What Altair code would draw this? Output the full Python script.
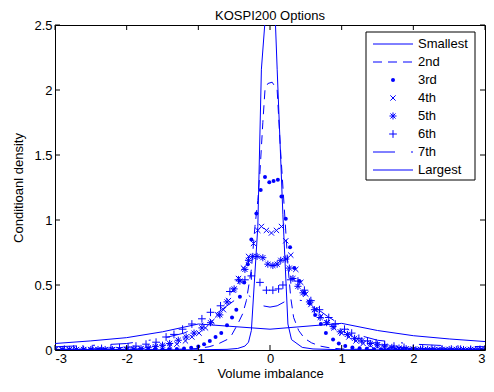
import altair as alt
import pandas as pd

W, H = 430, 325
BLUE = "#0000ff"

# ---- data ----
x_smallest = [-3.0, -2.0, -1.0, -0.6, -0.45, -0.35, -0.3, -0.26, -0.17, -0.12, -0.06, 0.0, 0.07, 0.1, 0.18, 0.25, 0.3, 0.45, 0.6, 1.0, 2.0, 3.0]
y_smallest = [0.0005, 0.001, 0.002, 0.005, 0.012, 0.03, 0.06, 0.15, 0.95, 2.16, 2.6, 3.0, 2.6, 2.16, 1.04, 0.2, 0.08, 0.02, 0.008, 0.002, 0.001, 0.0005]

x_2nd = [-3.0, -2.5, -2.0, -1.5, -1.2, -1.0, -0.85, -0.73, -0.6, -0.53, -0.45, -0.38, -0.33, -0.26, -0.21, -0.17, -0.14, -0.1, -0.07, -0.03, 0.03, 0.1, 0.14, 0.17, 0.21, 0.25, 0.29, 0.33, 0.4, 0.48, 0.58, 0.7, 0.85, 1.0, 1.2, 1.5, 2.0, 2.5, 3.0]
y_2nd = [0.001, 0.001, 0.002, 0.004, 0.007, 0.012, 0.025, 0.045, 0.08, 0.12, 0.2, 0.28, 0.38, 0.62, 0.95, 1.15, 1.37, 1.75, 2.0, 2.05, 2.06, 2.0, 1.6, 1.34, 1.0, 0.65, 0.4, 0.25, 0.15, 0.09, 0.055, 0.03, 0.015, 0.008, 0.006, 0.004, 0.002, 0.001, 0.001]

x_3rd = [-3.0, -2.9, -2.8, -2.7, -2.6, -2.5, -2.4, -2.3, -2.2, -2.1, -2.0, -1.9, -1.8, -1.7, -1.6, -1.5, -1.4, -1.3, -1.2, -1.1, -1.0,
         -0.92, -0.84, -0.76, -0.68, -0.6, -0.53, -0.47, -0.42, -0.36, -0.31, -0.26, -0.19, -0.13, -0.07, -0.01, 0.05, 0.11, 0.16, 0.22, 0.28, 0.34, 0.41, 0.48, 0.55, 0.63, 0.71, 0.78, 0.88, 0.96,
         1.05, 1.15, 1.25, 1.35, 1.45, 1.55, 1.65, 1.75, 1.85, 1.95, 2.05, 2.15, 2.25, 2.35, 2.45, 2.55, 2.65, 2.75, 2.85, 2.95]
y_3rd = [0.002, 0.002, 0.002, 0.002, 0.002, 0.002, 0.002, 0.002, 0.002, 0.002, 0.002, 0.002, 0.003, 0.003, 0.004, 0.005, 0.006, 0.008, 0.012, 0.018, 0.026,
         0.045, 0.07, 0.1, 0.13, 0.19, 0.25, 0.31, 0.41, 0.52, 0.66, 0.85, 1.05, 1.23, 1.33, 1.29, 1.30, 1.31, 1.18, 1.01, 0.79, 0.63, 0.53, 0.44, 0.36, 0.27, 0.2, 0.13, 0.08, 0.05,
         0.03, 0.02, 0.013, 0.009, 0.006, 0.005, 0.004, 0.003, 0.003, 0.002, 0.002, 0.002, 0.002, 0.002, 0.002, 0.002, 0.002, 0.002, 0.002, 0.002]

x_4th = [-3.0, -2.9, -2.8, -2.7, -2.6, -2.5, -2.4, -2.3, -2.2, -2.1, -2.0, -1.9, -1.8, -1.7, -1.6, -1.5, -1.4, -1.3,
         -1.18, -1.09, -0.99, -0.9, -0.81, -0.73, -0.65, -0.58, -0.51, -0.44, -0.37, -0.3, -0.23, -0.17, -0.12, -0.05, 0.02, 0.09, 0.16, 0.22, 0.29, 0.36, 0.43, 0.5, 0.57, 0.64, 0.71, 0.8, 0.89, 1.0, 1.1, 1.2,
         1.3, 1.4, 1.5, 1.6, 1.7, 1.8, 1.9, 2.0, 2.1, 2.2, 2.3, 2.4, 2.5, 2.6, 2.7, 2.8, 2.9, 3.0]
y_4th = [0.003, 0.003, 0.003, 0.003, 0.003, 0.003, 0.003, 0.003, 0.003, 0.003, 0.004, 0.005, 0.007, 0.01, 0.014, 0.02, 0.03, 0.045,
         0.07, 0.1, 0.13, 0.17, 0.22, 0.27, 0.31, 0.38, 0.46, 0.55, 0.63, 0.72, 0.82, 0.92, 0.95, 0.92, 0.9, 0.92, 0.95, 0.84, 0.73, 0.62, 0.52, 0.43, 0.35, 0.31, 0.26, 0.21, 0.17, 0.13, 0.1, 0.07,
         0.05, 0.035, 0.025, 0.017, 0.012, 0.008, 0.006, 0.005, 0.004, 0.004, 0.004, 0.004, 0.004, 0.004, 0.004, 0.004, 0.004, 0.004]

x_5th = [-3.0, -2.9, -2.8, -2.7, -2.6, -2.5, -2.4, -2.3, -2.2, -2.1, -2.0, -1.9, -1.8, -1.7, -1.6, -1.5, -1.4,
         -1.28, -1.17, -1.06, -0.95, -0.83, -0.7, -0.6, -0.5, -0.42, -0.35, -0.3, -0.24, -0.18, -0.1, -0.03, 0.04, 0.1, 0.15, 0.22, 0.27, 0.32, 0.39, 0.46, 0.55, 0.62, 0.7, 0.79, 0.88, 0.98, 1.08, 1.18, 1.28,
         1.4, 1.5, 1.6, 1.7, 1.8, 1.9, 2.0, 2.1, 2.2, 2.3, 2.4, 2.5, 2.6, 2.7, 2.8, 2.9, 3.0]
y_5th = [0.004, 0.004, 0.004, 0.004, 0.004, 0.004, 0.004, 0.004, 0.004, 0.004, 0.006, 0.008, 0.012, 0.018, 0.026, 0.037, 0.05,
         0.075, 0.1, 0.13, 0.17, 0.21, 0.27, 0.37, 0.47, 0.53, 0.62, 0.69, 0.72, 0.72, 0.71, 0.66, 0.65, 0.66, 0.69, 0.7, 0.63, 0.55, 0.49, 0.44, 0.37, 0.31, 0.25, 0.21, 0.18, 0.14, 0.12, 0.09, 0.07,
         0.05, 0.04, 0.03, 0.02, 0.015, 0.01, 0.008, 0.006, 0.004, 0.004, 0.004, 0.004, 0.004, 0.004, 0.004, 0.004, 0.004]

x_6th = [-3.0, -2.87, -2.74, -2.61, -2.48, -2.35, -2.22, -2.1, -1.98, -1.87, -1.73, -1.59, -1.45, -1.34, -1.22, -1.09, -0.95, -0.83, -0.69, -0.56, -0.44, -0.35, -0.26, -0.14, -0.05, 0.04, 0.12, 0.18, 0.29, 0.39, 0.48, 0.57, 0.69, 0.82, 0.91, 1.04, 1.14, 1.24, 1.36, 1.48, 1.6, 1.73, 1.87, 2.0, 2.13, 2.26, 2.4, 2.53, 2.66, 2.8, 2.93]
y_6th = [0.005, 0.006, 0.007, 0.008, 0.01, 0.012, 0.015, 0.018, 0.022, 0.03, 0.045, 0.06, 0.1, 0.12, 0.16, 0.2, 0.24, 0.29, 0.34, 0.45, 0.54, 0.54, 0.57, 0.52, 0.46, 0.46, 0.47, 0.5, 0.54, 0.53, 0.46, 0.38, 0.31, 0.25, 0.2, 0.16, 0.13, 0.09, 0.07, 0.055, 0.04, 0.03, 0.02, 0.015, 0.012, 0.01, 0.008, 0.007, 0.006, 0.005, 0.005]

x_7th = [-3.0, -2.5, -2.0, -1.5, -1.2, -1.0, -0.8, -0.6, -0.45, -0.3, -0.2, -0.1, 0.0, 0.1, 0.2, 0.3, 0.45, 0.6, 0.8, 1.0, 1.2, 1.5, 2.0, 2.5, 3.0]
y_7th = [0.025, 0.035, 0.05, 0.09, 0.13, 0.18, 0.26, 0.34, 0.4, 0.42, 0.38, 0.34, 0.33, 0.34, 0.37, 0.39, 0.38, 0.34, 0.26, 0.19, 0.12, 0.075, 0.045, 0.032, 0.025]

x_largest = [-3.0, -2.5, -2.0, -1.5, -1.0, 0.0, 1.0, 1.5, 2.0, 2.5, 3.0]
y_largest = [0.05, 0.07, 0.095, 0.14, 0.2, 0.16, 0.205, 0.15, 0.11, 0.085, 0.065]

legend_labels = ["Smallest", "2nd", "3rd", "4th", "5th", "6th", "7th", "Largest"]
x_ticks = [-3, -2, -1, 0, 1, 2, 3]
y_ticks = [0, 0.5, 1, 1.5, 2, 2.5]

# ---- chart ----
def frame(xs, ys):
    return pd.DataFrame({"x": xs, "y": ys})

xsc = alt.Scale(domain=[-3, 3], nice=False, zero=False)
ysc = alt.Scale(domain=[0, 2.5], nice=False)
X = alt.X("x:Q", scale=xsc, axis=alt.Axis(title="Volume imbalance", values=x_ticks, labelExpr="toString(datum.value)",
                                          ticks=False, domain=False, grid=False, labelPadding=2, titlePadding=2))
Y = alt.Y("y:Q", scale=ysc, axis=alt.Axis(title="Conditioanl density", values=y_ticks, labelExpr="toString(datum.value)",
                                          ticks=False, domain=False, grid=False, labelPadding=3, titlePadding=8))

PLUS = "M-1,0L1,0M0,-1L0,1"
CROSS = "M-1,-1L1,1M-1,1L1,-1"
STAR = "M-1,0L1,0M0,-1L0,1M-0.72,-0.72L0.72,0.72M-0.72,0.72L0.72,-0.72"
sizes = {"circle": 16, CROSS: 28, STAR: 50, PLUS: 60}

layers = []
layers.append(alt.Chart(frame(x_largest, y_largest)).mark_line(color=BLUE, strokeWidth=1, clip=True).encode(x=X, y=Y))
layers.append(alt.Chart(frame(x_7th, y_7th)).mark_line(color=BLUE, strokeWidth=1, strokeDash=[22, 16, 2, 16], clip=True).encode(x=X, y=Y))
layers.append(alt.Chart(frame(x_smallest, y_smallest)).mark_line(color=BLUE, strokeWidth=1, clip=True).encode(x=X, y=Y))
layers.append(alt.Chart(frame(x_2nd, y_2nd)).mark_line(color=BLUE, strokeWidth=1, strokeDash=[9, 6], clip=True).encode(x=X, y=Y))
layers.append(alt.Chart(frame(x_3rd, y_3rd)).mark_point(shape="circle", filled=True, size=sizes["circle"], color=BLUE, opacity=1, clip=True).encode(x=X, y=Y))
layers.append(alt.Chart(frame(x_4th, y_4th)).mark_point(shape=CROSS, filled=False, size=sizes[CROSS], color=BLUE, strokeWidth=1, opacity=1, clip=True).encode(x=X, y=Y))
layers.append(alt.Chart(frame(x_5th, y_5th)).mark_point(shape=STAR, filled=False, size=sizes[STAR], color=BLUE, strokeWidth=1, opacity=1, clip=True).encode(x=X, y=Y))
layers.append(alt.Chart(frame(x_6th, y_6th)).mark_point(shape=PLUS, filled=False, size=sizes[PLUS], color=BLUE, strokeWidth=1, opacity=1, clip=True).encode(x=X, y=Y))

# inward ticks on all four sides
xt = pd.DataFrame({"x": x_ticks})
yt = pd.DataFrame({"y": y_ticks})
layers.append(alt.Chart(xt).mark_rule(color="black", strokeWidth=1).encode(x=X, y=alt.value(H), y2=alt.value(H - 5)))
layers.append(alt.Chart(xt).mark_rule(color="black", strokeWidth=1).encode(x=X, y=alt.value(0), y2=alt.value(5)))
layers.append(alt.Chart(yt).mark_rule(color="black", strokeWidth=1).encode(y=Y, x=alt.value(0), x2=alt.value(5)))
layers.append(alt.Chart(yt).mark_rule(color="black", strokeWidth=1).encode(y=Y, x=alt.value(W - 5), x2=alt.value(W)))

# legend box
one = pd.DataFrame({"a": [0]})
LX0, LX1, LY0, LY1 = 311, 420, 7, 155
layers.append(alt.Chart(one).mark_rect(fill="white", stroke="black", strokeWidth=1).encode(
    x=alt.value(LX0), x2=alt.value(LX1), y=alt.value(LY0), y2=alt.value(LY1)))
row_y = [19 + 18 * i for i in range(8)]
SX0, SX1, SXM, TX = 318, 358, 338, 363
styles = [("line", None), ("line", [9, 6]), ("pt", "circle"), ("pt", CROSS), ("pt", STAR), ("pt", PLUS), ("line", [22, 16, 2, 16]), ("line", None)]
for lab, ry, (kind, st) in zip(legend_labels, row_y, styles):
    if kind == "line":
        kw = {"color": BLUE, "strokeWidth": 1}
        if st:
            kw["strokeDash"] = st
        layers.append(alt.Chart(one).mark_rule(**kw).encode(x=alt.value(SX0), x2=alt.value(SX1), y=alt.value(ry)))
    else:
        layers.append(alt.Chart(one).mark_point(shape=st, filled=(st == "circle"), size=sizes[st], color=BLUE,
                                                strokeWidth=1, opacity=1).encode(x=alt.value(SXM), y=alt.value(ry)))
    layers.append(alt.Chart(one).mark_text(text=lab, align="left", baseline="middle", fontSize=13,
                                           font="Liberation Sans", color="black").encode(x=alt.value(TX), y=alt.value(ry)))

chart = alt.layer(*layers).properties(
    width=W, height=H,
    title=alt.TitleParams("KOSPI200 Options", fontSize=13, fontWeight="normal", font="Liberation Sans", anchor="middle", offset=-4, color="black"),
    padding={"left": 47, "top": 17, "right": 1, "bottom": 34},
    autosize="none",
).configure(font="Liberation Sans").configure_view(stroke="black", strokeWidth=1).configure_axis(
    labelFont="Liberation Sans", titleFont="Liberation Sans", labelFontSize=13, titleFontSize=13,
    titleFontWeight="normal", labelColor="black", titleColor="black")

chart.save("out.html", embed_options={"renderer": "svg", "actions": False})
